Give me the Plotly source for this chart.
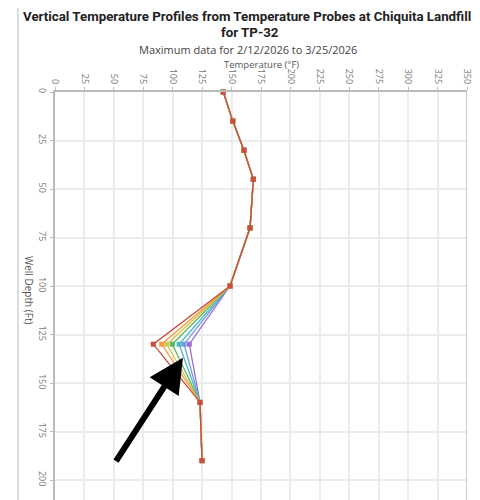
import plotly.graph_objects as go

depths = [0, 15, 30, 45, 70, 100, 130, 160, 190]
base_temps = [143, 151, 160.5, 168.5, 165.7, 148.7, None, 123.2, 124.9]
series_names = ["Day 1", "Day 2", "Day 3", "Day 4", "Day 5", "Day 6", "Day 7"]
series_colors = ["#9b6fd6", "#6f9be0", "#4fb8c0", "#5cb85c", "#d6c64a", "#f39c4a", "#c8503e"]
temps_at_130 = [114.1, 109.6, 105.4, 99.7, 95.0, 90.6, 83.5]
title_lines = ["Vertical Temperature Profiles from Temperature Probes at Chiquita Landfill", "for TP-32"]

fig = go.Figure()
for name, color, t130 in zip(series_names, series_colors, temps_at_130):
    temps = [t130 if v is None else v for v in base_temps]
    fig.add_trace(go.Scatter(
        x=temps, y=depths, mode="lines+markers", name=name,
        line=dict(color=color, width=1.3),
        marker=dict(symbol="square", size=5, color=color),
        cliponaxis=False, showlegend=False))

font = "Open Sans, Noto Sans, sans-serif"
OFF = 8  # page body margin
FW, FH = 480 - OFF, 500 - OFF
# plot area in screen pixels
L, R, T, B = 55, 467, 92, 500
W, H = R - L, B - T


def px(x):
    return (x - L) / W


def py(y):
    return (B - y) / H


fig.update_layout(
    width=FW, height=FH,
    margin=dict(l=L - OFF, r=480 - R, t=T - OFF, b=500 - B),
    paper_bgcolor="white", plot_bgcolor="white",
    font=dict(family=font, color="#555"),
    xaxis=dict(range=[0, 350], dtick=25, side="top", tickangle=90,
               showgrid=True, gridcolor="#ececec", gridwidth=1.5,
               showline=True, linecolor="#bbb", linewidth=1.5,
               ticks="outside", ticklen=3, tickcolor="#bbb",
               tickfont=dict(size=9, color="#777"), zeroline=False),
    yaxis=dict(range=[210.3, 0], dtick=25, tickangle=90,
               showgrid=True, gridcolor="#ececec", gridwidth=1.5,
               showline=True, linecolor="#bbb", linewidth=1.5,
               ticks="outside", ticklen=3, tickcolor="#bbb",
               tickfont=dict(size=9, color="#777"), zeroline=False),
)

fig.add_annotation(text="<b>%s</b>" % title_lines[0], x=px(246.5), y=py(16.5),
                   xref="paper", yref="paper", showarrow=False, xanchor="center", yanchor="middle",
                   font=dict(size=13.3, color="#222", family="Roboto, Open Sans, sans-serif"))
fig.add_annotation(text="<b>%s</b>" % title_lines[1], x=px(250), y=py(32),
                   xref="paper", yref="paper", showarrow=False, xanchor="center", yanchor="middle",
                   font=dict(size=13.3, color="#222", family="Roboto, Open Sans, sans-serif"))
fig.add_annotation(text="Maximum data for 2/12/2026 to 3/25/2026", x=px(248), y=py(50),
                   xref="paper", yref="paper", showarrow=False, xanchor="center",
                   font=dict(size=11, color="#444"), yanchor="middle")
fig.add_annotation(text="Temperature (°F)", x=px(261), y=py(64),
                   xref="paper", yref="paper", showarrow=False, xanchor="center",
                   font=dict(size=9.5, color="#555"), yanchor="middle")
fig.add_annotation(text="Well Depth (Ft)", x=px(29), y=py(290), xref="paper", yref="paper",
                   showarrow=False, textangle=90, xanchor="center", yanchor="middle",
                   font=dict(size=10, color="#555"))

# right border of plot area
fig.add_shape(type="line", xref="x", yref="paper", x0=350, x1=350, y0=0, y1=1,
              line=dict(color="#bbb", width=1.5))
# outer container border line at left
fig.add_shape(type="line", xref="paper", yref="paper", x0=px(18), x1=px(18), y0=0, y1=py(0),
              line=dict(color="#bbb", width=1))

# black arrow
fig.add_annotation(x=108.7, y=137, ax=51, ay=191, xref="x", yref="y", axref="x", ayref="y",
                   showarrow=True, arrowhead=2, arrowsize=1.15, arrowwidth=6, arrowcolor="black", text="")

fig.write_html("out.html")
